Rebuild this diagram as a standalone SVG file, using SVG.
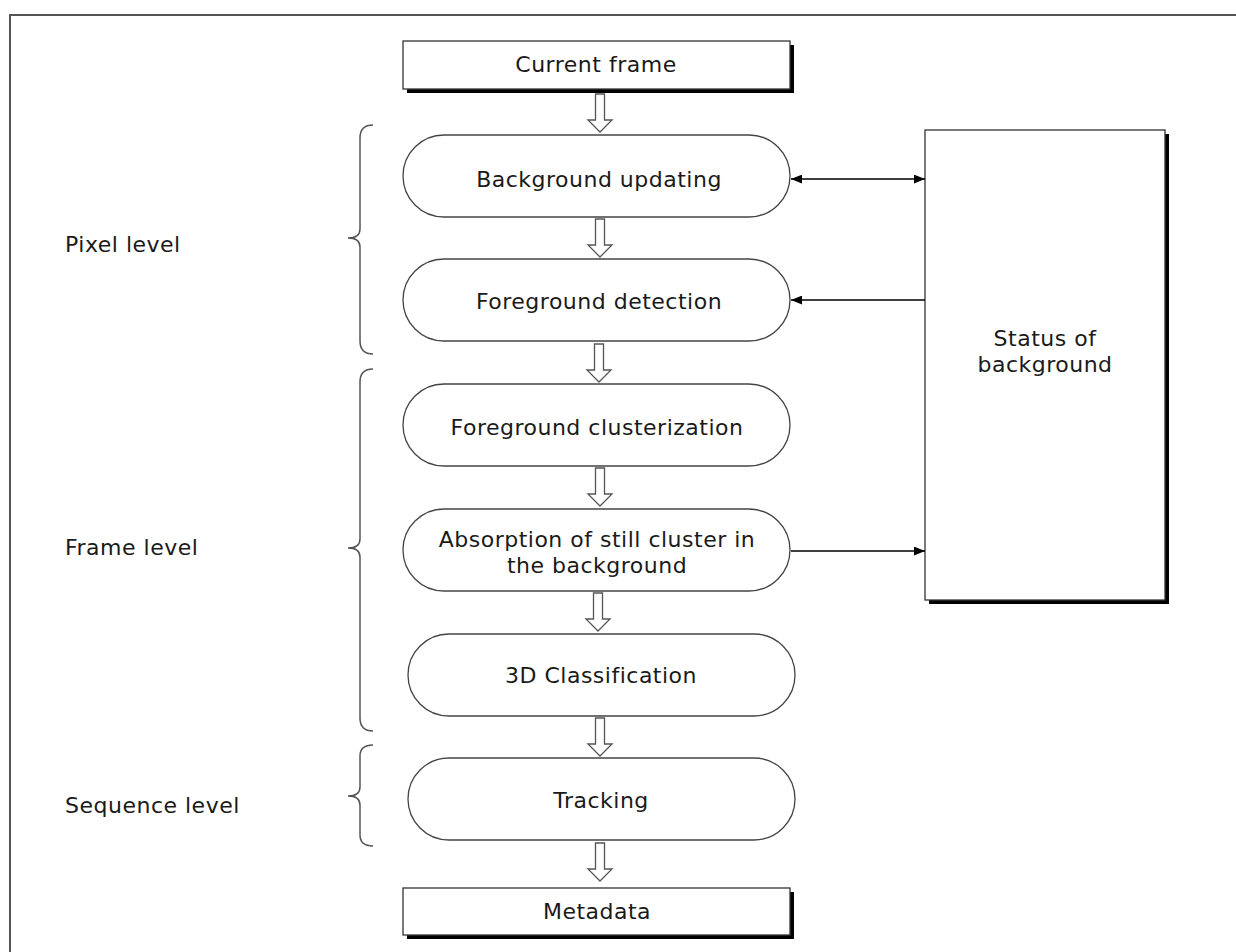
<svg xmlns="http://www.w3.org/2000/svg" width="1236" height="952" viewBox="0 0 1236 952">
<defs>
<style>
.t{font-family:"DejaVu Sans","Verdana",sans-serif;font-size:22px;letter-spacing:0.5px;fill:#1a1a1a;text-anchor:middle}
.l{font-family:"DejaVu Sans","Verdana",sans-serif;font-size:22px;letter-spacing:0.5px;fill:#1a1a1a}
.pill{fill:#fff;stroke:#444;stroke-width:1.3}
.box{fill:#fff;stroke:#333;stroke-width:1.3}
.sh{fill:#000}
.ha{fill:#fff;stroke:#555;stroke-width:1.3}
.br{fill:none;stroke:#555;stroke-width:1.5}
.ln{fill:none;stroke:#000;stroke-width:1.3}
</style>
<marker id="ah" viewBox="0 0 10 8" refX="10" refY="4" markerWidth="11" markerHeight="9" markerUnits="userSpaceOnUse" orient="auto-start-reverse">
<path d="M0,0 L10,4 L0,8 z" fill="#000"/>
</marker>
<path id="hollow" d="M-4.5,0 L4.5,0 L4.5,26 L12,26 L0,38 L-12,26 L-4.5,26 z"/>
</defs>
<rect x="10" y="15" width="1400" height="1100" fill="none" stroke="#555" stroke-width="2"/>

<g id="current-frame">
<rect class="sh" x="407" y="45" width="387" height="48"/>
<rect class="box" x="403" y="41" width="387" height="48"/>
<text class="t" x="596" y="72">Current frame</text>
</g>

<g id="background-updating">
<rect class="pill" x="403" y="135" width="387" height="82" rx="41"/>
<text class="t" x="599" y="187">Background updating</text>
</g>

<g id="foreground-detection">
<rect class="pill" x="403" y="259" width="387" height="82" rx="41"/>
<text class="t" x="599" y="309">Foreground detection</text>
</g>

<g id="foreground-clusterization">
<rect class="pill" x="403" y="384" width="387" height="82" rx="41"/>
<text class="t" x="597" y="435">Foreground clusterization</text>
</g>

<g id="absorption">
<rect class="pill" x="403" y="509" width="387" height="82" rx="41"/>
<text class="t" x="597" y="547">Absorption of still cluster in</text>
<text class="t" x="597" y="573">the background</text>
</g>

<g id="classification">
<rect class="pill" x="408" y="634" width="387" height="82" rx="41"/>
<text class="t" x="601" y="683">3D Classification</text>
</g>

<g id="tracking">
<rect class="pill" x="408" y="758" width="387" height="82" rx="41"/>
<text class="t" x="601" y="808">Tracking</text>
</g>

<g id="metadata">
<rect class="sh" x="407" y="892" width="387" height="47"/>
<rect class="box" x="403" y="888" width="387" height="47"/>
<text class="t" x="597" y="919">Metadata</text>
</g>

<g id="status-of-background">
<rect class="sh" x="929" y="134" width="240" height="470"/>
<rect class="box" x="925" y="130" width="240" height="470"/>
<text class="t" x="1045" y="346">Status of</text>
<text class="t" x="1045" y="372">background</text>
</g>

<g id="levels">
<path class="br" d="M373,125 Q360,125 360,138 L360,229 Q360,238 348,238 Q360,238 360,247 L360,341 Q360,354 373,354"/>
<text class="l" x="65" y="252">Pixel level</text>
<path class="br" d="M373,369 Q360,369 360,382 L360,539 Q360,548 348,548 Q360,548 360,557 L360,718 Q360,731 373,731"/>
<text class="l" x="65" y="555">Frame level</text>
<path class="br" d="M373,745 Q360,745 360,756 L360,787 Q360,796 348,796 Q360,796 360,805 L360,835 Q360,846 373,846"/>
<text class="l" x="65" y="813">Sequence level</text>
</g>

<g id="connectors">
<use href="#hollow" class="ha" x="600" y="94"/>
<use href="#hollow" class="ha" x="600" y="219"/>
<use href="#hollow" class="ha" x="599" y="344"/>
<use href="#hollow" class="ha" x="600" y="468"/>
<use href="#hollow" class="ha" x="598" y="593"/>
<use href="#hollow" class="ha" x="600" y="718"/>
<use href="#hollow" class="ha" x="600" y="843"/>
<line class="ln" x1="791" y1="179" x2="925" y2="179" marker-start="url(#ah)" marker-end="url(#ah)"/>
<line class="ln" x1="925" y1="300" x2="791" y2="300" marker-end="url(#ah)"/>
<line class="ln" x1="791" y1="551" x2="925" y2="551" marker-end="url(#ah)"/>
</g>
</svg>
